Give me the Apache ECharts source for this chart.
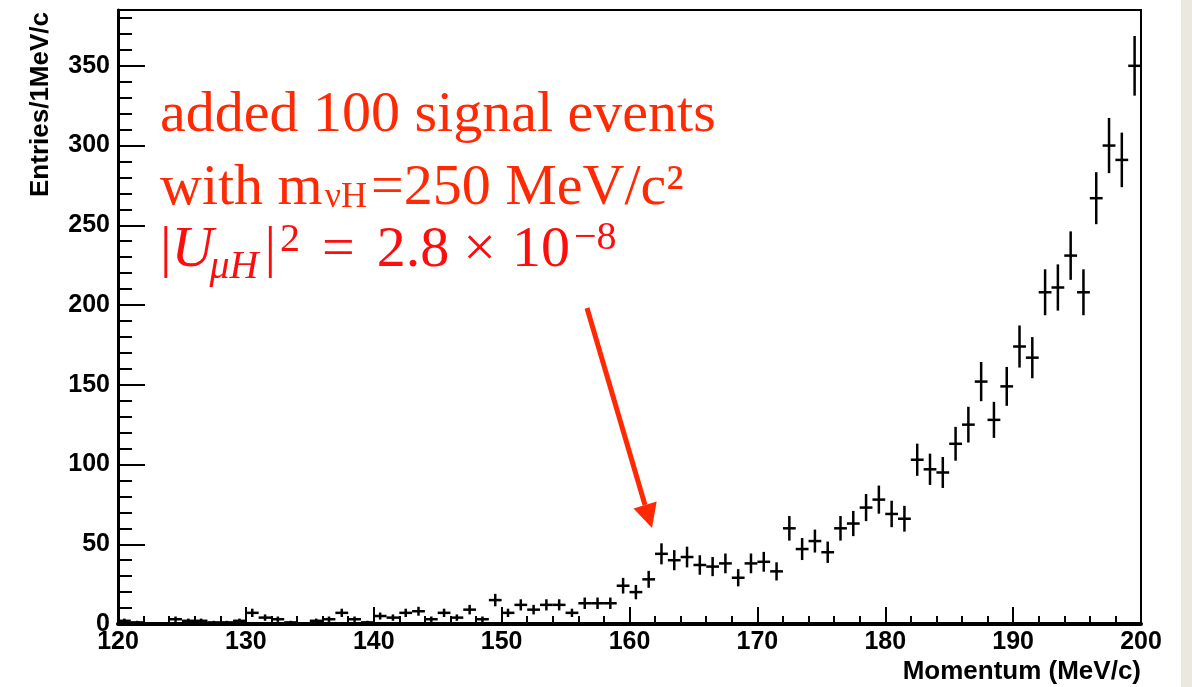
<!DOCTYPE html>
<html><head><meta charset="utf-8">
<script src="https://cdn.jsdelivr.net/npm/echarts@6/dist/echarts.min.js"></script>
<style>html,body{margin:0;padding:0;background:#fff}#c{width:1192px;height:687px}</style>
</head><body><div id="c"></div>
<script>
// Histogram bin centres (MeV/c), bin width 1 MeV/c
const momentum = [120.5,121.5,122.5,123.5,124.5,125.5,126.5,127.5,128.5,129.5,
  130.5,131.5,132.5,133.5,134.5,135.5,136.5,137.5,138.5,139.5,
  140.5,141.5,142.5,143.5,144.5,145.5,146.5,147.5,148.5,149.5,
  150.5,151.5,152.5,153.5,154.5,155.5,156.5,157.5,158.5,159.5,
  160.5,161.5,162.5,163.5,164.5,165.5,166.5,167.5,168.5,169.5,
  170.5,171.5,172.5,173.5,174.5,175.5,176.5,177.5,178.5,179.5,
  180.5,181.5,182.5,183.5,184.5,185.5,186.5,187.5,188.5,189.5,
  190.5,191.5,192.5,193.5,194.5,195.5,196.5,197.5,198.5,199.5];
const binWidth = 1;
// Entries per bin
const entries = [2,1,0,0,3,2,2,1,1,2,
  7,4,3,1,0,2,3,7,3,1,
  5,4,7,8,3,7,4,9,3,15,
  7,12,9,12,12,7,13,13,13,24,
  20,28,44,40,42,37,36,38,29,38,
  39,33,60,47,52,45,60,63,73,78,
  69,66,103,97,95,113,125,152,128,149,
  174,167,208,211,231,208,267,300,291,350];
// Statistical error per bin (half length of the vertical bar)
const errors = [1.4,1,0,0,1.7,1.4,1.4,1,1,1.4,
  2.6,2,1.7,1,0,1.4,1.7,2.6,1.7,1,
  2.2,2,2.6,2.8,1.7,2.6,2,3,1.7,3.9,
  2.6,3.5,3,3.5,3.5,2.6,3.6,3.6,3.6,4.9,
  4.5,5.3,6.6,6.3,6.5,6.1,6,6.2,5.4,6.2,
  6.2,5.7,7.7,6.9,7.2,6.7,7.7,7.9,8.5,8.8,
  8.3,8.1,10.1,9.8,9.7,10.6,11.2,12.3,11.3,12.2,
  13.2,12.9,14.4,14.5,15.2,14.4,16.3,17.3,17.1,18.7];
const xRange = [120, 200];
const yRange = [0, 385];
const xMajor = 10, xMinorSplit = 5;
const yMajor = 50, yMinor = 10;

const data = momentum.map((m, i) => [m, entries[i], errors[i]]);

const chart = echarts.init(document.getElementById('c'), null, {renderer: 'canvas'});
const tickFont = {fontFamily: 'Liberation Sans', fontWeight: 'bold', fontSize: 25, color: '#000'};
const serif = 'Liberation Serif';
const red1 = '#ff2a04', red2 = '#ff0c0c';

// Annotation layout helper: places text pieces on a common baseline (sub/superscripts shifted)
const mctx = document.createElement('canvas').getContext('2d');
function textWidth(t, size, italic) {
  mctx.font = (italic ? 'italic ' : '') + size + 'px "' + serif + '"';
  return mctx.measureText(t).width;
}
function annotationLine(x0, baseline, pieces, color) {
  let x = x0;
  const out = [];
  pieces.forEach(p => {
    x += p.before || 0;
    out.push({type: 'text', z: 20, x: x, y: baseline + (p.dy || 0) - 0.305 * p.size,
      style: {text: p.t, fontFamily: serif, fontSize: p.size, fontStyle: p.italic ? 'italic' : 'normal',
              fill: color, align: 'left', verticalAlign: 'middle'}});
    x += textWidth(p.t, p.size, p.italic) + (p.after || 0);
  });
  return out;
}
const line1 = annotationLine(160, 133, [{t: 'added 100 signal events', size: 58}], red1);
const line2 = annotationLine(160, 206, [
  {t: 'with m', size: 58},
  {t: 'νH', size: 36, dy: 3, before: 2, after: 4},
  {t: '=250 MeV/c²', size: 58}
], red1);
const line3 = annotationLine(160, 268, [
  {t: '|', size: 58},
  {t: 'U', size: 58, italic: true},
  {t: 'μH', size: 40, italic: true, dy: 12, before: -4},
  {t: '|', size: 58, before: 6},
  {t: '2', size: 40, dy: -15, before: 4},
  {t: '=', size: 58, before: 22, after: 22},
  {t: '2.8', size: 58},
  {t: '×', size: 58, before: 14, after: 16},
  {t: '10', size: 58},
  {t: '−8', size: 40, dy: -17, before: 4}
], red2);

chart.setOption({
  animation: false,
  backgroundColor: '#ffffff',
  grid: {left: 118, right: 51, top: 10, bottom: 63, show: true, borderColor: '#000', borderWidth: 2,
         backgroundColor: '#fff', outerBoundsMode: 'none', containLabel: false},
  xAxis: {
    type: 'value', min: xRange[0], max: xRange[1], interval: xMajor,
    name: 'Momentum (MeV/c)', nameLocation: 'end', nameGap: 0, nameMoveOverlap: false,
    nameTextStyle: {fontFamily: 'Liberation Sans', fontWeight: 'bold', fontSize: 26, color: '#000',
                    align: 'right', verticalAlign: 'top', padding: [35, 0, 0, 0]},
    axisLine: {show: true, onZero: false, lineStyle: {color: '#000', width: 4}},
    axisTick: {show: true, inside: true, length: 17, lineStyle: {color: '#000', width: 2}},
    minorTick: {show: true, splitNumber: xMinorSplit, length: 8, lineStyle: {color: '#000', width: 2}},
    axisLabel: Object.assign({margin: 6}, tickFont),
    splitLine: {show: false}
  },
  yAxis: [{
    type: 'value', min: yRange[0], max: yRange[1], interval: yMajor,
    name: 'Entries/1MeV/c', nameLocation: 'end', nameGap: -2, nameRotate: 90, nameMoveOverlap: false,
    nameTextStyle: {fontFamily: 'Liberation Sans', fontWeight: 'bold', fontSize: 26, color: '#000',
                    align: 'right', verticalAlign: 'bottom', padding: [0, 0, 64, 0]},
    axisLine: {show: true, onZero: false, lineStyle: {color: '#000', width: 3}},
    axisTick: {show: true, inside: true, length: 27, lineStyle: {color: '#000', width: 2}},
    axisLabel: Object.assign({margin: 8, showMaxLabel: false}, tickFont),
    splitLine: {show: false}
  }, {
    type: 'value', position: 'left', min: yRange[0], max: yRange[1], interval: yMinor,
    axisLine: {show: false},
    axisTick: {show: true, inside: true, length: 14, lineStyle: {color: '#000', width: 2}},
    axisLabel: {show: false},
    splitLine: {show: false}
  }],
  series: [{
    type: 'custom',
    xAxisIndex: 0, yAxisIndex: 0,
    data: data,
    encode: {x: 0, y: 1},
    z: 10,
    renderItem: function (params, api) {
      const x = api.value(0), y = api.value(1), e = api.value(2);
      const l = api.coord([x - binWidth / 2, y]), r = api.coord([x + binWidth / 2, y]);
      const t = api.coord([x, y + e]), b = api.coord([x, y - e]);
      const st = {stroke: '#000', lineWidth: 2.5};
      return {type: 'group', children: [
        {type: 'line', shape: {x1: l[0], y1: l[1], x2: r[0], y2: r[1]}, style: st},
        {type: 'line', shape: {x1: t[0], y1: t[1], x2: b[0], y2: b[1]}, style: st}
      ]};
    }
  }],
  graphic: [
    {type: 'rect', shape: {x: 1181, y: 0, width: 11, height: 687}, style: {fill: '#ebe9df'}, z: 0},
    ...line1, ...line2, ...line3,
    {type: 'line', z: 20, shape: {x1: 587, y1: 308, x2: 645, y2: 505}, style: {stroke: red1, lineWidth: 5}},
    {type: 'polygon', z: 20, shape: {points: [[652, 528], [633.5, 508.5], [656.7, 501.6]]}, style: {fill: red1}}
  ]
});
</script>
</body></html>
